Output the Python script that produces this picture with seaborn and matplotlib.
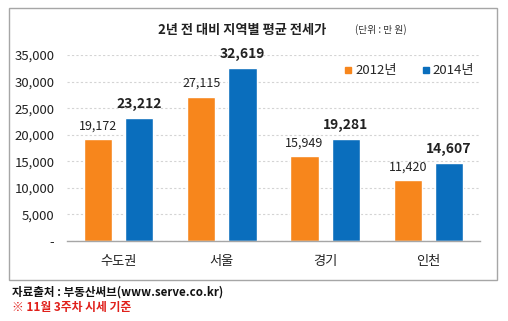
import matplotlib
matplotlib.use("Agg")
import matplotlib.pyplot as plt
from matplotlib.patches import Rectangle
from matplotlib.lines import Line2D
import seaborn as sns
import pandas as pd

regions = ["수도권", "서울", "경기", "인천"]
years = ["2012년", "2014년"]
values_2012 = [19172, 27115, 15949, 11420]
values_2014 = [23212, 32619, 19281, 14607]
yticks = [0, 5000, 10000, 15000, 20000, 25000, 30000, 35000]
ytick_labels = ["-", "5,000", "10,000", "15,000", "20,000", "25,000", "30,000", "35,000"]
title = "2년 전 대비 지역별 평균 전세가"
unit = "(단위 : 만 원)"
source = "자료출처 : 부동산써브(www.serve.co.kr)"
note = "※ 11월 3주차 시세 기준"

colors = ["#F7861C", "#0A6EBD"]

sns.set_theme(style="white")
FONT = ["Noto Sans CJK KR", "DejaVu Sans"]
plt.rcParams["font.family"] = FONT

df = pd.DataFrame({
    "region": regions * 2,
    "year": [years[0]] * len(regions) + [years[1]] * len(regions),
    "value": values_2012 + values_2014,
})

fig = plt.figure(figsize=(5.08, 3.21), dpi=100)
fig.patch.set_facecolor("white")

# outer chart frame
fig.patches.append(Rectangle((9 / 508, 1 - 280 / 321), 488 / 508, 272 / 321,
                             transform=fig.transFigure, fill=False,
                             edgecolor="#A6A6A6", linewidth=1.0))

ax = fig.add_axes([67 / 508, 1 - 241 / 321, 413 / 508, 186 / 321])
sns.barplot(data=df, x="region", y="value", hue="year", palette=colors,
            width=0.8, gap=0.32, saturation=1, ax=ax, legend=False)

ax.set_ylim(0, 35000)
ax.set_xlim(-0.5, 3.5)
ax.set_yticks(yticks)
ax.set_yticklabels(ytick_labels, fontsize=9.5, color="#222222")
ax.set_xlabel("")
ax.set_ylabel("")
ax.tick_params(axis="y", length=0, pad=9)
ax.tick_params(axis="x", length=0, pad=10, labelsize=9.5, colors="#222222")
for s in ["top", "right", "left"]:
    ax.spines[s].set_visible(False)
ax.spines["bottom"].set_color("#A6A6A6")
ax.spines["bottom"].set_linewidth(1.0)
ax.yaxis.grid(True, linestyle=(0, (2, 2)), color="#D4D4D4", linewidth=0.8)
ax.set_axisbelow(True)

# value labels
for i, cont in enumerate(ax.containers):
    labels = [f"{v:,.0f}" for v in cont.datavalues]
    ax.bar_label(cont, labels=labels, padding=5, fontsize=9 if i == 0 else 10,
                 fontweight="normal" if i == 0 else "bold", color="#222222")

# legend
handles = [Line2D([], [], marker="s", linestyle="", markersize=5,
                  markerfacecolor=c, markeredgecolor=c) for c in colors]
ax.legend(handles, years, loc="center right", bbox_to_anchor=(1.015, 0.914),
          ncol=2, frameon=False, fontsize=9.5, handlelength=0.6,
          handletextpad=0.25, columnspacing=1.9)

fig.text(242 / 508, 1 - 30 / 321, title, ha="center", va="center",
         fontsize=9.5, fontweight="bold", color="#222222")
fig.text(381 / 508, 1 - 30 / 321, unit, ha="center", va="center",
         fontsize=7, color="#333333")
fig.text(12 / 508, 1 - 292 / 321, source, ha="left", va="center",
         fontsize=8.3, fontweight="bold", color="#111111")
fig.text(12 / 508, 1 - 308 / 321, note, ha="left", va="center",
         fontsize=8.5, fontweight="bold", color="#E0201B")

fig.savefig("out.png", dpi=100, facecolor="white")
